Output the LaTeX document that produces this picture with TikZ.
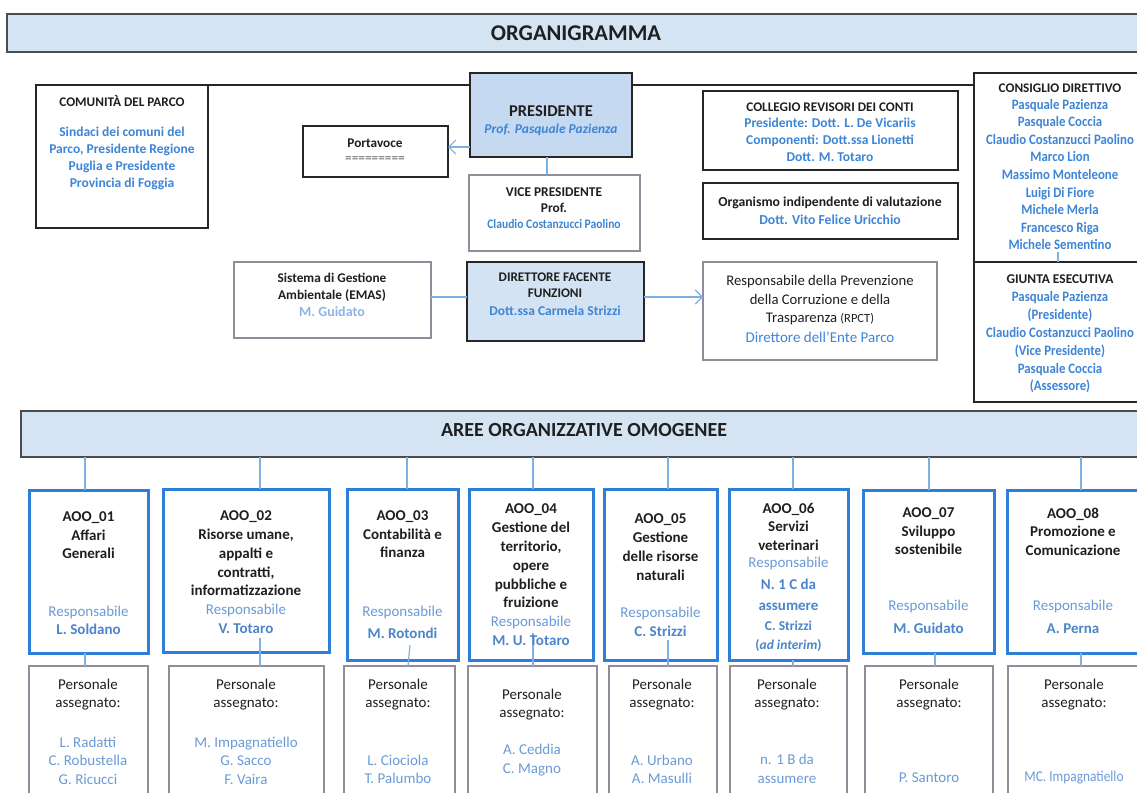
\documentclass[tikz,border=0pt]{standalone}
\usepackage{fontspec}
\setmainfont{Carlito}
\newfontfamily\condfont[FakeStretch=0.89]{Carlito}
\usetikzlibrary{arrows.meta}
\definecolor{hdr}{HTML}{D4E4F3}
\definecolor{presfill}{HTML}{C5D9F0}
\definecolor{dirfill}{HTML}{D3E3F3}
\definecolor{bluet}{HTML}{3D85D6}
\definecolor{respc}{HTML}{6B9BD6}
\definecolor{respb}{HTML}{4C85CA}
\definecolor{paleb}{HTML}{8CB4EA}
\definecolor{aoob}{HTML}{2F7FD8}
\definecolor{grayb}{HTML}{968B9B}
\definecolor{connc}{HTML}{7DB0E3}
\definecolor{txtc}{HTML}{1F1F1F}
\newcommand{\fz}[2]{\fontsize{#1}{#2}\selectfont}
\newcommand{\obox}[6]{\node[#2, anchor=north west, minimum width={#5pt-#3pt}, minimum height={#6pt-#4pt}] (#1) at (#3,#4) {};}
\begin{document}
\begin{tikzpicture}[x=1pt,y=-1pt,
  blk/.style={draw=black!85, line width=1.3pt, fill=white, inner sep=0pt, outer sep=0pt},
  hdrbox/.style={draw=black!70, line width=1.5pt, fill=hdr, inner sep=0pt, outer sep=0pt},
  presbox/.style={blk, fill=presfill},
  dirbox/.style={blk, fill=dirfill},
  gry/.style={draw=grayb, line width=2.7pt, fill=white, inner sep=0pt, outer sep=0pt},
  aoo/.style={draw=aoob, line width=3pt, fill=white, inner sep=0pt, outer sep=0pt},
  conn/.style={draw=connc, line width=1.2pt},
  arr/.style={conn, -{Straight Barb[length=7pt,width=14pt]}},
  tx/.style={inner sep=0pt, align=center, text=txtc}]
\useasboundingbox (0,0) rectangle (1137,792);
\clip (0,0) rectangle (1137,792);
\fill[white] (0,0) rectangle (1137,792);

% ---------- top header
\obox{hdrtop}{hdrbox}{7}{14}{1150}{52}
\node[tx, font={\fz{22.5}{26}\bfseries}] (ttitle) at (576,33) {ORGANIGRAMMA};

% ---------- boxes of the upper part
\obox{com}{blk}{36}{85}{208}{228}
\obox{cons}{blk}{974}{73}{1150}{262}
\obox{giunta}{blk}{974}{262}{1150}{402}
\draw[black!85, line width=1.2pt] (com.north east) -- (cons.west |- com.north east);
\obox{pres}{presbox}{470}{73}{632}{157}
\obox{porta}{blk}{303}{126}{448}{177}
\obox{vice}{gry}{469}{175}{640}{251}
\obox{coll}{blk}{703}{91}{958}{170}
\obox{oiv}{blk}{703}{183}{958}{239}
\obox{sgam}{gry}{234}{262}{431}{338}
\obox{dir}{dirbox}{467}{262}{644}{341}
\obox{rpct}{gry}{703}{262}{937}{360}

% ---------- connectors of the upper part
\coordinate (pa) at ([yshift=4.5pt]porta.east);
\draw[arr] (pres.west |- pa) -- (pa);
\coordinate (pv) at ([xshift=-4pt]pres.south);
\draw[conn] (pv) -- (pv |- vice.north);
\coordinate (sd) at ([yshift=3pt]sgam.east);
\draw[conn] (sd) -- (sd -| dir.west);
\coordinate (dr) at ([yshift=4.5pt]dir.east);
\draw[arr] (dr) -- (dr -| rpct.west);
\coordinate (cg) at ([xshift=-4pt,yshift=10pt]giunta.north);
\draw[conn] (cg) -- (cg |- giunta.north);

% ---------- texts of the upper part
\node[tx, font={\fz{13.2}{16}\bfseries}] (tcom) at (122,101) {COMUNITÀ DEL PARCO};
\node[tx, text=bluet, font={\fz{13.5}{17}\bfseries}] (tcom2) at (122,158.5) {Sindaci dei comuni del\\Parco, Presidente Regione\\Puglia e Presidente\\Provincia di Foggia};

\node[tx, font={\fz{16.5}{19}\bfseries}] (tpres) at (551,111) {PRESIDENTE};
\node[tx, text=bluet, font={\fz{13.5}{16}\bfseries\itshape}] (tpres2) at (551,130) {Prof. Pasquale Pazienza};

\node[tx, font={\fz{13.3}{16}\bfseries}] (tporta) at (375,143) {Portavoce};
\node[tx, text=black!65, font={\fz{13.3}{16}}] (tporta2) at (375,160) {=========};

\node[tx, font={\fz{13.4}{16.5}\bfseries}] (tvice) at (554,200) {VICE PRESIDENTE\\Prof.};
\node[tx, text=bluet, font={\condfont\fz{13}{16}\bfseries}] (tvice2) at (554,224) {Claudio Costanzucci Paolino};

\node[tx, font={\fz{13.2}{17}\bfseries}] (tcoll) at (830,107) {COLLEGIO REVISORI DEI CONTI};
\node[tx, text=bluet, font={\fz{13.5}{17}\bfseries}] (tcoll2) at (830,140) {Presidente: Dott. L. De Vicariis\\Componenti: Dott.ssa Lionetti\\Dott. M. Totaro};

\node[tx, font={\fz{13.7}{17}\bfseries}] (toiv) at (830,203) {Organismo indipendente di valutazione};
\node[tx, text=bluet, font={\fz{13.7}{17}\bfseries}] (toiv2) at (830,220) {Dott. Vito Felice Uricchio};

\node[tx, font={\fz{13.2}{17}\bfseries}] (tcons) at (1060,88) {CONSIGLIO DIRETTIVO};
\node[tx, text=bluet, font={\condfont\fz{14.4}{17.6}\bfseries}] (tcons2) at (1060,174.5) {Pasquale Pazienza\\Pasquale Coccia\\Claudio Costanzucci Paolino\\Marco Lion\\Massimo Monteleone\\Luigi Di Fiore\\Michele Merla\\Francesco Riga\\Michele Sementino};
\node[tx, font={\fz{13.4}{17}\bfseries}] (tgiu) at (1060,279) {GIUNTA ESECUTIVA};
\node[tx, text=bluet, font={\condfont\fz{14.4}{17.8}\bfseries}] (tgiu2) at (1060,342.5) {Pasquale Pazienza\\(Presidente)\\Claudio Costanzucci Paolino\\(Vice Presidente)\\Pasquale Coccia\\(Assessore)};

\node[tx, font={\fz{13.3}{17}\bfseries}] (tsg) at (332,287.5) {Sistema di Gestione\\Ambientale (EMAS)};
\node[tx, text=paleb, font={\fz{14}{17}\bfseries}] (tsg2) at (332,312) {M. Guidato};

\node[tx, font={\fz{13.2}{16.5}\bfseries}] (tdir) at (555,285) {DIRETTORE FACENTE\\FUNZIONI};
\node[tx, text=bluet, font={\fz{13.5}{16.5}\bfseries}] (tdir2) at (555,311) {Dott.ssa Carmela Strizzi};

\node[tx, font={\fz{14.7}{18.5}}] (trp) at (820,300.5) {Responsabile della Prevenzione\\della Corruzione e della\\Trasparenza {\fz{12.5}{18.5}(RPCT)}};
\node[tx, text=bluet, font={\fz{15}{18.5}}] (trp2) at (820,337) {Direttore dell’Ente Parco};

% ---------- second header
\obox{aree}{hdrbox}{21}{411}{1150}{457}
\node[tx, font={\fz{20}{24}\bfseries}] (taree) at (584,430) {AREE ORGANIZZATIVE OMOGENEE};

% ---------- AOO boxes
\obox{a1}{aoo}{29}{490}{148}{653}
\obox{a2}{aoo}{163}{489}{329}{652}
\obox{a3}{aoo}{347}{489}{458}{660}
\obox{a4}{aoo}{469}{489}{593}{660}
\obox{a5}{aoo}{604}{489}{717}{660}
\obox{a6}{aoo}{729}{489}{848}{660}
\obox{a7}{aoo}{863}{490}{994}{653}
\obox{a8}{aoo}{1007}{490}{1140}{653}

% ---------- Personale boxes
\obox{p1}{gry}{29}{666}{148}{800}
\obox{p2}{gry}{169}{666}{324}{800}
\obox{p3}{gry}{344}{666}{455}{800}
\obox{p4}{gry}{468}{666}{597}{800}
\obox{p5}{gry}{609}{666}{717}{800}
\obox{p6}{gry}{730}{666}{847}{800}
\obox{p7}{gry}{865}{666}{993}{800}
\obox{p8}{gry}{1008}{666}{1150}{800}

% ---------- connectors header -> AOO
\coordinate (u1) at (85,457);
\coordinate (u2) at (260,457);
\coordinate (u3) at (407,457);
\coordinate (u4) at (533,457);
\coordinate (u5) at (668,457);
\coordinate (u6) at (793,457);
\coordinate (u7) at (929,457);
\coordinate (u8) at (1081,457);
\draw[conn] (u1) -- (u1 |- a1.north);
\draw[conn] (u2) -- (u2 |- a2.north);
\draw[conn] (u3) -- (u3 |- a3.north);
\draw[conn] (u4) -- (u4 |- a4.north);
\draw[conn] (u5) -- (u5 |- a5.north);
\draw[conn] (u6) -- (u6 |- a6.north);
\draw[conn] (u7) -- (u7 |- a7.north);
\draw[conn] (u8) -- (u8 |- a8.north);

% ---------- connectors AOO -> Personale
\coordinate (d1) at (85,653);
\coordinate (d2) at (260,638);
\coordinate (d3) at (410,645);
\coordinate (d4) at (533,633);
\coordinate (d5) at (668,640);
\coordinate (d6) at (793,660);
\coordinate (d7) at (935,653);
\coordinate (d8) at (1081,653);
\draw[conn] (d1) -- (d1 |- p1.north);
\draw[conn] (d2) -- (d2 |- p2.north);
\draw[conn] (d3) -- ([xshift=8.5pt]p3.north);
\draw[conn] (d4) -- (d4 |- p4.north);
\draw[conn] (d5) -- (d5 |- p5.north);
\draw[conn] (d6) -- (d6 |- p6.north);
\draw[conn] (d7) -- (d7 |- p7.north);
\draw[conn] (d8) -- (d8 |- p8.north);

% ---------- AOO texts
\node[tx, font={\fz{15}{18.5}\bfseries}] (ta1) at (88.5,535.5) {AOO\_01\\Affari\\Generali};
\node[tx, text=respc, font={\fz{15}{18}}] (ra1) at (88.5,620) {Responsabile\\{\color{respb}\bfseries L. Soldano}};

\node[tx, font={\fz{15}{18.7}\bfseries}] (ta2) at (246,553.5) {AOO\_02\\Risorse umane,\\appalti e\\contratti,\\informatizzazione};
\node[tx, text=respc, font={\fz{15}{19}}] (ra2) at (246,618.5) {Responsabile\\{\color{respb}\bfseries V. Totaro}};

\node[tx, font={\fz{15}{18.5}\bfseries}] (ta3) at (402.5,534.5) {AOO\_03\\Contabilità e\\finanza};
\node[tx, text=respc, font={\fz{15}{22}}] (ra3) at (402.5,622) {Responsabile\\{\color{respb}\bfseries M. Rotondi}};

\node[tx, font={\fz{15}{18.8}\bfseries}] (ta4) at (531,556) {AOO\_04\\Gestione del\\territorio,\\opere\\pubbliche e\\fruizione};
\node[tx, text=respc, font={\fz{15}{19}}] (ra4) at (531,630.5) {Responsabile\\{\color{respb}\bfseries M. U. Totaro}};

\node[tx, font={\fz{15}{19}\bfseries}] (ta5) at (660.5,547.5) {AOO\_05\\Gestione\\delle risorse\\naturali};
\node[tx, text=respc, font={\fz{15}{19}}] (ra5) at (660.5,621.5) {Responsabile\\{\color{respb}\bfseries C. Strizzi}};

\node[tx, font={\fz{15}{18.5}\bfseries}] (ta6) at (788.5,526.5) {AOO\_06\\Servizi\\veterinari};
\node[tx, text=respc, font={\fz{15}{18}}] (ra6) at (788.5,563) {Responsabile};
\node[tx, text=respb, font={\fz{15}{21}\bfseries}] (ra6b) at (788.5,594.5) {N. 1 C da\\assumere};
\node[tx, text=respb, font={\fz{13.5}{19}\bfseries}] (ra6c) at (788.5,636.5) {C. Strizzi\\(\textit{ad interim})};

\node[tx, font={\fz{15}{18.5}\bfseries}] (ta7) at (928.5,531.5) {AOO\_07\\Sviluppo\\sostenibile};
\node[tx, text=respc, font={\fz{15}{23}}] (ra7) at (928.5,616.5) {Responsabile\\{\color{respb}\bfseries M. Guidato}};

\node[tx, font={\fz{15}{18.5}\bfseries}] (ta8) at (1073,531.5) {AOO\_08\\Promozione e\\Comunicazione};
\node[tx, text=respc, font={\fz{15}{23}}] (ra8) at (1073,616.5) {Responsabile\\{\color{respb}\bfseries A. Perna}};

% ---------- Personale texts
\node[tx, font={\fz{15}{18}}] (tp1) at (88,695) {Personale\\assegnato:};
\node[tx, text=respc, font={\fz{15}{18.5}}] (np1) at (88,760.5) {L. Radatti\\C. Robustella\\G. Ricucci};
\node[tx, font={\fz{15}{18}}] (tp2) at (246,695) {Personale\\assegnato:};
\node[tx, text=respc, font={\fz{15}{18.5}}] (np2) at (246,760.5) {M. Impagnatiello\\G. Sacco\\F. Vaira};
\node[tx, font={\fz{15}{18}}] (tp3) at (398,695) {Personale\\assegnato:};
\node[tx, text=respc, font={\fz{15}{18.5}}] (np3) at (398,769.5) {L. Ciociola\\T. Palumbo};
\node[tx, font={\fz{15}{18}}] (tp4) at (532,705) {Personale\\assegnato:};
\node[tx, text=respc, font={\fz{15}{19}}] (np4) at (532,760) {A. Ceddia\\C. Magno};
\node[tx, font={\fz{15}{18}}] (tp5) at (662,695) {Personale\\assegnato:};
\node[tx, text=respc, font={\fz{15}{18.5}}] (np5) at (662,769.5) {A. Urbano\\A. Masulli};
\node[tx, font={\fz{15}{18}}] (tp6) at (787,695) {Personale\\assegnato:};
\node[tx, text=respc, font={\fz{15}{19}}] (np6) at (787,768.5) {n. 1 B da\\assumere};
\node[tx, font={\fz{15}{18}}] (tp7) at (929,695) {Personale\\assegnato:};
\node[tx, text=respc, font={\fz{15}{18}}] (np7) at (929,778) {P. Santoro};
\node[tx, font={\fz{15}{18}}] (tp8) at (1074,695) {Personale\\assegnato:};
\node[tx, text=respc, font={\condfont\fz{15}{18}}] (np8) at (1074,778) {MC. Impagnatiello};
\end{tikzpicture}
\end{document}
